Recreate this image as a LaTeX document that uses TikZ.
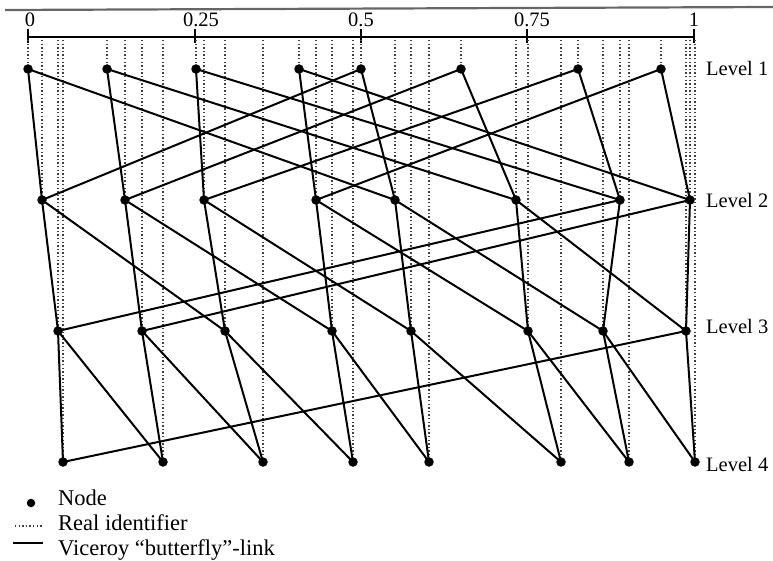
\documentclass[tikz,border=0pt]{standalone}
\usepackage{fontspec}
\setmainfont{Liberation Serif}
\begin{document}
\begin{tikzpicture}[x=1pt,y=-1pt,
  dot/.style={circle,fill=black,inner sep=0pt,minimum size=9.5pt},
  link/.style={line width=2pt,line cap=round},
  idline/.style={line width=1.5pt,dash pattern=on 1.4pt off 2.2pt,black!75},
  rule/.style={line width=2pt},
  lvl/.style={anchor=west,inner sep=0pt,font=\fontsize{20.5}{24}\selectfont},
  ticklbl/.style={anchor=base,inner sep=0pt,font=\fontsize{20.5}{24}\selectfont},
  legtxt/.style={anchor=base west,inner sep=0pt,font=\fontsize{22.5}{26}\selectfont}]
\useasboundingbox (0,0) rectangle (773,561);
% top rule
\coordinate (topL) at (5,10);
\coordinate (topR) at (773,7);
\draw[line width=2.2pt,black!60] (topL) -- (topR);
% axis
\coordinate (ax0) at (28,37);
\coordinate (ax1) at (694,37);
\draw[rule] (ax0) -- (ax1);
\foreach \t/\lx/\lab [count=\k] in {28/30/0,195/201/0.25,361/361/0.5,527/532/0.75,694/694/1}{
  \coordinate (tkA\k) at (\t,29);
  \coordinate (tkB\k) at (\t,43);
  \draw[rule] (tkA\k) -- (tkB\k);
  \node[ticklbl] (tl\k) at (\lx,26.5) {\lab};
}
\coordinate (axis) at (0,40);
% nodes
\foreach \x [count=\i from 0] in {28,107,196,299,361,461,578,661}
  \node[dot] (a\i) at (\x,69) {};
\foreach \x [count=\i from 0] in {42,125,204,316,395,516,620,690}
  \node[dot] (b\i) at (\x,200) {};
\foreach \x [count=\i from 0] in {58,142,225,332,411,528,603,686}
  \node[dot] (c\i) at (\x,331) {};
\foreach \x [count=\i from 0] in {63,163,263,353,429,561,629,695}
  \node[dot] (d\i) at (\x,462) {};
% real identifiers (dotted)
\foreach \i in {0,...,7}{
  \draw[idline] (a\i |- axis) -- (a\i.north);
  \draw[idline] (b\i |- axis) -- (b\i.north);
  \draw[idline] (c\i |- axis) -- (c\i.north);
  \draw[idline] (d\i |- axis) -- (d\i.north);
}
% butterfly links
\foreach \i in {0,...,7}{
  \pgfmathtruncatemacro{\ja}{mod(\i+4,8)}
  \pgfmathtruncatemacro{\jb}{mod(\i+2,8)}
  \pgfmathtruncatemacro{\jc}{mod(\i+1,8)}
  \draw[link] (a\i.center) -- (b\i.center);
  \draw[link] (a\i.center) -- (b\ja.center);
  \draw[link] (b\i.center) -- (c\i.center);
  \draw[link] (b\i.center) -- (c\jb.center);
  \draw[link] (c\i.center) -- (d\i.center);
  \draw[link] (c\i.center) -- (d\jc.center);
}
% level labels
\node[lvl] (L1) at (706,68) {Level 1};
\node[lvl] (L2) at (706,200) {Level 2};
\node[lvl] (L3) at (706,326) {Level 3};
\node[lvl] (L4) at (706,464) {Level 4};
% legend
\node[dot,minimum size=8.5pt] (legdot) at (31,503) {};
\node[legtxt] (legN) at (58,505) {Node};
\coordinate (legDa) at (15,526);
\coordinate (legDb) at (43,526);
\draw[idline] (legDa) -- (legDb);
\node[legtxt] (legR) at (58,530) {Real identifier};
\coordinate (legSa) at (13,543);
\coordinate (legSb) at (43,543);
\draw[line width=2pt] (legSa) -- (legSb);
\node[legtxt] (legV) at (58,555) {Viceroy “butterfly”-link};
\end{tikzpicture}
\end{document}
